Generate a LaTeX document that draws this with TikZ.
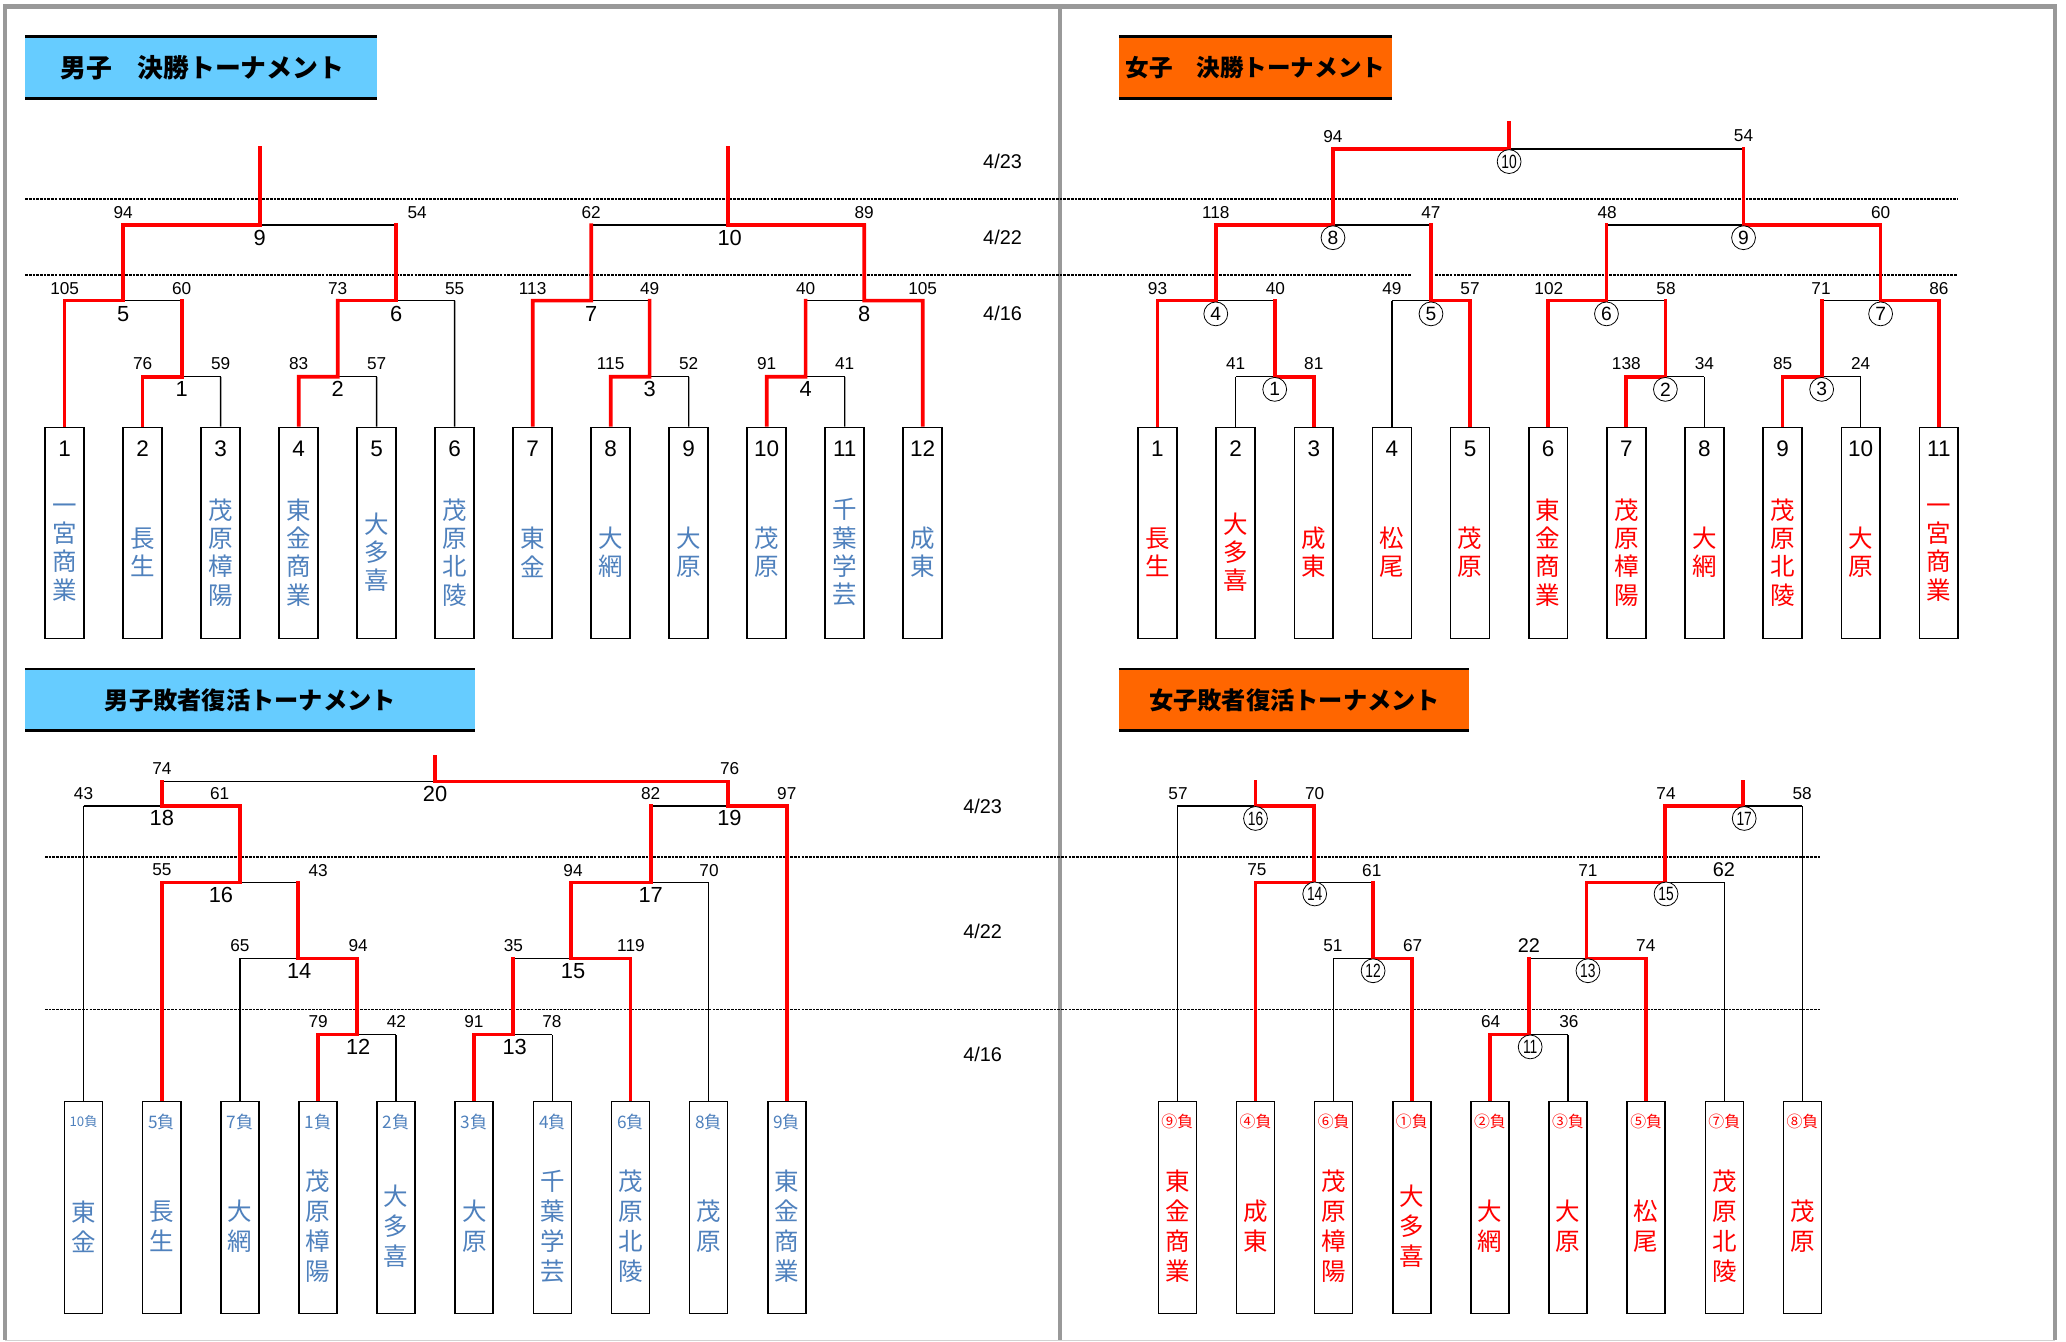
\documentclass[tikz,border=0pt]{standalone}
\usepackage{fontspec}
\setmainfont{Liberation Sans}
\newfontfamily\jp{Noto Sans CJK JP}
\newfontfamily\narrowf[FakeStretch=0.72]{Liberation Sans}
\definecolor{tblue}{HTML}{4F81BD}
\definecolor{lblue}{HTML}{66CCFF}
\definecolor{orng}{HTML}{FF6600}
\definecolor{framec}{HTML}{999999}
\definecolor{rr}{HTML}{FF0000}
\tikzset{
 bk/.style={line width=1pt, black},
 rd/.style={line width=2.8pt, rr, line join=miter, line cap=rect},
 rdb/.style={rd, shorten <=1.4pt},
 tbox/.style={draw, fill=white, line width=1.2pt, minimum width=29.3pt, minimum height=159.5pt, inner sep=0pt},
 rbox/.style={draw, fill=white, line width=1.2pt, minimum width=28.7pt, minimum height=160pt, inner sep=0pt},
 bnum/.style={font=\fontsize{17}{17}\selectfont, inner sep=0pt},
 score/.style={font=\fontsize{13}{13}\selectfont, inner sep=0pt},
 bigscore/.style={font=\fontsize{15}{15}\selectfont, inner sep=0pt},
 mlab/.style={font=\fontsize{16.5}{16.5}\selectfont, inner sep=0pt},
 clab/.style={draw, circle, line width=0.6pt, minimum size=18pt, inner sep=0pt, font=\fontsize{14.5}{14.5}\selectfont, fill=white},
 tname/.style={font=\fontsize{18.5}{21.4}\selectfont\jp, align=center, inner sep=0pt},
 rname/.style={font=\fontsize{18.5}{22.6}\selectfont\jp, align=center, inner sep=0pt},
 rlab/.style={font=\fontsize{13}{13}\selectfont\jp, inner sep=0pt},
 dline/.style={line width=1.2pt, dash pattern=on 2pt off 0.8pt},
 datel/.style={font=\fontsize{15}{15}\selectfont, inner sep=0pt},
 ttl/.style={font=\jp\bfseries, inner sep=0pt},
}
\newcommand\bmatch[6]{%
  \coordinate (#1L) at (#2,#5);
  \coordinate (#1M) at (#3,#5);
  \coordinate (#1R) at (#4,#5);
  \coordinate (#1T) at (#3,#6);
  \draw[bk] (#1L) -- (#1R);}
\newcommand\scr[6]{\node[score] (#1a) at (#2,#4) {#5}; \node[score] (#1b) at (#3,#4) {#6};}
\begin{document}
\begin{tikzpicture}[x=1pt,y=-1pt]
\useasboundingbox (0,0) rectangle (1560,1013.2);
% frame
\draw[framec, line width=3.6pt] (4,4.9) -- (1551.7,4.9);
\draw[framec, line width=3.2pt] (4,3.1) -- (4,1012);
\draw[framec, line width=3.6pt] (1551.7,3.1) -- (1551.7,1012);
\draw[framec, line width=3.4pt] (800.5,4.9) -- (800.5,1012);
\draw[gray!35, line width=1.2pt] (4,1012.2) -- (1551.7,1012.2);
% dashed day lines
\draw[dline] (19,150.4) -- (1478,150.4);
\draw[dline] (19,207.8) -- (1065.6,207.8) (1083.5,207.8) -- (1478,207.8);
\draw[dline] (34,647.2) -- (1375,647.2);
\draw[dline] (34,762.3) -- (1375,762.3);
% titles
\fill[lblue] (19,27.7) rectangle (285,74.3);
\draw[line width=1.8pt] (19,27.7) -- (285,27.7) (19,74.3) -- (285,74.3);
\node[ttl, font=\fontsize{19.5}{19.5}\selectfont\jp\bfseries] (title1) at (152.7,51) {男子　決勝トーナメント};
\fill[orng] (844.8,27.7) rectangle (1051,74.3);
\draw[line width=1.8pt] (844.8,27.7) -- (1051,27.7) (844.8,74.3) -- (1051,74.3);
\node[ttl, font=\fontsize{17.8}{17.8}\selectfont\jp\bfseries] (title2) at (948,51) {女子　決勝トーナメント};
\fill[lblue] (19,505.1) rectangle (358.3,551.7);
\draw[line width=1.8pt] (19,505.1) -- (358.3,505.1) (19,551.7) -- (358.3,551.7);
\node[ttl, font=\fontsize{18.3}{18.3}\selectfont\jp\bfseries] (title3) at (189,528.5) {男子敗者復活トーナメント};
\fill[orng] (844.8,505.1) rectangle (1109.2,551.7);
\draw[line width=1.8pt] (844.8,505.1) -- (1109.2,505.1) (844.8,551.7) -- (1109.2,551.7);
\node[ttl, font=\fontsize{18.3}{18.3}\selectfont\jp\bfseries] (title4) at (977.5,528.5) {女子敗者復活トーナメント};
% dates
\node[datel] (dt1) at (757,122) {4/23};
\node[datel] (dt2) at (757,179) {4/22};
\node[datel] (dt3) at (757,237) {4/16};
\node[datel] (dt4) at (742,609) {4/23};
\node[datel] (dt5) at (742,703.5) {4/22};
\node[datel] (dt6) at (742,796) {4/16};
% ===== team boxes =====
\foreach \i/\n in {1/一\\宮\\商\\業,2/長\\生,3/茂\\原\\樟\\陽,4/東\\金\\商\\業,5/大\\多\\喜,6/茂\\原\\北\\陵,7/東\\金,8/大\\網,9/大\\原,10/茂\\原,11/千\\葉\\学\\芸,12/成\\東}{
  \pgfmathsetmacro\xx{48.8+58.9*(\i-1)}
  \node[tbox] (mf\i) at (\xx,402.45) {};
  \node[bnum] (mfn\i) at (\xx,338.6) {\i};
  \node[tname,text=tblue] (mfs\i) at (\xx,417) {\n};
}
\foreach \i/\n in {1/長\\生,2/大\\多\\喜,3/成\\東,4/松\\尾,5/茂\\原,6/東\\金\\商\\業,7/茂\\原\\樟\\陽,8/大\\網,9/茂\\原\\北\\陵,10/大\\原,11/一\\宮\\商\\業}{
  \pgfmathsetmacro\xx{874+59*(\i-1)}
  \node[tbox] (wf\i) at (\xx,402.45) {};
  \node[bnum] (wfn\i) at (\xx,338.6) {\i};
  \node[tname,text=rr] (wfs\i) at (\xx,417) {\n};
}
\foreach \i/\l/\n in {1/{\fontsize{10}{10}\selectfont 10負}/東\\金,2/5負/長\\生,3/7負/大\\網,4/1負/茂\\原\\樟\\陽,5/2負/大\\多\\喜,6/3負/大\\原,7/4負/千\\葉\\学\\芸,8/6負/茂\\原\\北\\陵,9/8負/茂\\原,10/9負/東\\金\\商\\業}{
  \pgfmathsetmacro\xx{63.1+59*(\i-1)}
  \node[rbox] (mr\i) at (\xx,911.8) {};
  \node[rlab,text=tblue] (mrn\i) at (\xx,847) {\l};
  \node[rname,text=tblue] (mrs\i) at (\xx,926) {\n};
}
\foreach \i/\l/\n in {1/⑨負/東\\金\\商\\業,2/④負/成\\東,3/⑥負/茂\\原\\樟\\陽,4/①負/大\\多\\喜,5/②負/大\\網,6/③負/大\\原,7/⑤負/松\\尾,8/⑦負/茂\\原\\北\\陵,9/⑧負/茂\\原}{
  \pgfmathsetmacro\xx{889+59*(\i-1)}
  \node[rbox] (wr\i) at (\xx,911.8) {};
  \node[rlab,text=rr,font=\fontsize{12}{12}\selectfont\jp] (wrn\i) at (\xx,847) {\l};
  \node[rname,text=rr] (wrs\i) at (\xx,926) {\n};
}
% ===== men's final =====
\bmatch{a1}{107.7}{137.2}{166.6}{284.5}{227}
\bmatch{a2}{225.5}{255}{284.4}{284.5}{227}
\bmatch{a3}{461.1}{490.5}{520}{284.5}{227}
\bmatch{a4}{578.9}{608.3}{637.8}{284.5}{227}
\bmatch{a5}{48.8}{93}{137.2}{227}{170}
\bmatch{a6}{255}{299.2}{343.3}{227}{170}
\bmatch{a7}{402.2}{446.4}{490.5}{227}{170}
\bmatch{a8}{608.3}{652.5}{696.7}{227}{170}
\bmatch{a9}{93}{196.1}{299.2}{170}{112}
\bmatch{a10}{446.4}{549.5}{652.5}{170}{112}
\draw[bk] (mf3.north) -- (a1R);
\draw[bk] (mf5.north) -- (a2R);
\draw[bk] (mf6.north) -- (a6R);
\draw[bk] (mf9.north) -- (a3R);
\draw[bk] (mf11.north) -- (a4R);
\draw[rdb] (mf2.north) -- (a1L) -- (a1M) -- (a1T);
\draw[rdb] (mf4.north) -- (a2L) -- (a2M) -- (a2T);
\draw[rdb] (mf8.north) -- (a3L) -- (a3M) -- (a3T);
\draw[rdb] (mf10.north) -- (a4L) -- (a4M) -- (a4T);
\draw[rdb] (mf1.north) -- (a5L) -- (a5M) -- (a5T);
\draw[rd] (a6L) -- (a6M) -- (a6T);
\draw[rdb] (mf7.north) -- (a7L) -- (a7M) -- (a7T);
\draw[rdb] (mf12.north) -- (a8R) -- (a8M) -- (a8T);
\draw[rd] (a9L) -- (a9M) -- (a9T);
\draw[rd] (a10R) -- (a10M) -- (a10T);
\scr{sa1}{107.7}{166.6}{274.4}{76}{59}
\scr{sa2}{225.5}{284.4}{274.4}{83}{57}
\scr{sa3}{461.1}{520}{274.4}{115}{52}
\scr{sa4}{578.9}{637.8}{274.4}{91}{41}
\scr{sa5}{48.8}{137.2}{218}{105}{60}
\scr{sa6}{255}{343.3}{218}{73}{55}
\scr{sa7}{402.2}{490.5}{218}{113}{49}
\scr{sa8}{608.3}{696.7}{218}{40}{105}
\scr{sa9}{93}{315}{160.5}{94}{54}
\scr{sa10}{446.4}{652.5}{160.5}{62}{89}
\node[mlab] (la1) at (137.2,294) {1};
\node[mlab] (la2) at (255,294) {2};
\node[mlab] (la3) at (490.5,294) {3};
\node[mlab] (la4) at (608.3,294) {4};
\node[mlab] (la5) at (93,237) {5};
\node[mlab] (la6) at (299.2,237) {6};
\node[mlab] (la7) at (446.4,237) {7};
\node[mlab] (la8) at (652.5,237) {8};
\node[mlab] (la9) at (196.1,179.5) {9};
\node[mlab] (la10) at (551,179.5) {10};
% ===== women's final =====
\bmatch{b1}{933}{962.5}{992}{284.5}{227}
\bmatch{b2}{1228}{1257.5}{1287}{284.5}{227}
\bmatch{b3}{1346}{1375.5}{1405}{284.5}{227}
\bmatch{b4}{874}{918}{962.5}{227}{170}
\bmatch{b5}{1051}{1080.5}{1110}{227}{170}
\bmatch{b6}{1169}{1213}{1257.5}{227}{170}
\bmatch{b7}{1375.5}{1420}{1464}{227}{170}
\bmatch{b8}{918}{1006.5}{1080.5}{170}{112.6}
\bmatch{b9}{1213}{1316.5}{1420}{170}{112.6}
\bmatch{b10}{1006.5}{1139.5}{1316.5}{112.6}{93}
\draw[bk] (wf2.north) -- (b1L);
\draw[bk] (wf4.north) -- (b5L);
\draw[bk] (wf8.north) -- (b2R);
\draw[bk] (wf10.north) -- (b3R);
\draw[rdb] (wf3.north) -- (b1R) -- (b1M) -- (b1T);
\draw[rdb] (wf7.north) -- (b2L) -- (b2M) -- (b2T);
\draw[rdb] (wf9.north) -- (b3L) -- (b3M) -- (b3T);
\draw[rdb] (wf1.north) -- (b4L) -- (b4M) -- (b4T);
\draw[rdb] (wf5.north) -- (b5R) -- (b5M) -- (b5T);
\draw[rdb] (wf6.north) -- (b6L) -- (b6M) -- (b6T);
\draw[rdb] (wf11.north) -- (b7R) -- (b7M) -- (b7T);
\draw[rd] (b8L) -- (b8M) -- (b8T);
\draw[rd] (b9R) -- (b9M) -- (b9T);
\draw[rd] (b10L) -- (b10M) -- (b10T);
\scr{sb1}{933}{992}{274.4}{41}{81}
\scr{sb2}{1228}{1287}{274.4}{138}{34}
\scr{sb3}{1346}{1405}{274.4}{85}{24}
\scr{sb4}{874}{963}{218}{93}{40}
\scr{sb5}{1051}{1110}{218}{49}{57}
\scr{sb6}{1169.5}{1258}{218}{102}{58}
\scr{sb7}{1375}{1464}{218}{71}{86}
\scr{sb8}{918}{1080.5}{160.5}{118}{47}
\scr{sb9}{1213.5}{1420}{160.5}{48}{60}
\scr{sb10}{1006.5}{1316.5}{102.8}{94}{54}
\node[clab] (lb1) at (962.5,294) {1};
\node[clab] (lb2) at (1257.5,294) {2};
\node[clab] (lb3) at (1375.5,294) {3};
\node[clab] (lb4) at (918,237) {4};
\node[clab] (lb5) at (1080.5,237) {5};
\node[clab] (lb6) at (1213,237) {6};
\node[clab] (lb7) at (1420,237) {7};
\node[clab] (lb8) at (1006.5,179.5) {8};
\node[clab] (lb9) at (1316.5,179.5) {9};
\node[clab] (lb10) at (1139.5,122) {\narrowf 10};
% ===== men's repechage =====
\bmatch{c12}{240.1}{269.6}{299.1}{781.2}{723.7}
\bmatch{c13}{358.1}{387.6}{417.1}{781.2}{723.7}
\bmatch{c14}{181.1}{224.8}{269.6}{723.7}{666.3}
\bmatch{c15}{387.6}{431.2}{476.1}{723.7}{666.3}
\bmatch{c16}{122.1}{181.1}{224.8}{666.3}{608.6}
\bmatch{c17}{431.2}{491.3}{535.1}{666.3}{608.6}
\bmatch{c18}{63.1}{122.1}{181.1}{608.6}{590.2}
\bmatch{c19}{491.3}{549.8}{594.1}{608.6}{590.2}
\bmatch{c20}{122.1}{328.5}{549.8}{590.2}{571.4}
\draw[bk] (mr1.north) -- (c18L);
\draw[bk] (mr3.north) -- (c14L);
\draw[bk] (mr5.north) -- (c12R);
\draw[bk] (mr7.north) -- (c13R);
\draw[bk] (mr9.north) -- (c17R);
\draw[rdb] (mr4.north) -- (c12L) -- (c12M) -- (c12T);
\draw[rdb] (mr6.north) -- (c13L) -- (c13M) -- (c13T);
\draw[rd] (c14R) -- (c14M) -- (c14T);
\draw[rdb] (mr8.north) -- (c15R) -- (c15M) -- (c15T);
\draw[rdb] (mr2.north) -- (c16L) -- (c16M) -- (c16T);
\draw[rd] (c17L) -- (c17M) -- (c17T);
\draw[rd] (c18R) -- (c18M) -- (c18T);
\draw[rdb] (mr10.north) -- (c19R) -- (c19M) -- (c19T);
\draw[rd] (c20R) -- (c20M) -- (c20T);
\scr{sc20}{122.2}{551}{580}{74}{76}
\scr{sc18}{63.1}{165.8}{599}{43}{61}
\scr{sc19}{491.3}{594.1}{599}{82}{97}
\scr{sc16}{122.2}{240.2}{657}{55}{43}
\scr{sc17}{432.7}{535.4}{657}{94}{70}
\scr{sc14}{181.2}{270.5}{714}{65}{94}
\scr{sc15}{387.6}{476.4}{714}{35}{119}
\scr{sc12}{240.2}{299.3}{771.6}{79}{42}
\scr{sc13}{357.8}{416.8}{771.6}{91}{78}
\node[mlab] (lc20) at (328.5,599.5) {20};
\node[mlab] (lc18) at (122.2,618) {18};
\node[mlab] (lc19) at (550.8,618) {19};
\node[mlab] (lc16) at (166.8,676) {16};
\node[mlab] (lc17) at (491.3,676) {17};
\node[mlab] (lc14) at (225.9,733) {14};
\node[mlab] (lc15) at (432.7,733) {15};
\node[mlab] (lc12) at (270.5,790.5) {12};
\node[mlab] (lc13) at (388.6,790.5) {13};
% ===== women's repechage =====
\bmatch{d11}{1125}{1154.5}{1184}{781.2}{723.7}
\bmatch{d12}{1007}{1036.5}{1066}{723.7}{666.3}
\bmatch{d13}{1154.5}{1198}{1243}{723.7}{666.3}
\bmatch{d14}{948}{992}{1036.5}{666.3}{608.6}
\bmatch{d15}{1198}{1257}{1302}{666.3}{608.6}
\bmatch{d16}{889}{948}{992}{608.6}{590}
\bmatch{d17}{1257}{1316}{1361}{608.6}{590}
\draw[bk] (wr1.north) -- (d16L);
\draw[bk] (wr3.north) -- (d12L);
\draw[bk] (wr6.north) -- (d11R);
\draw[bk] (wr8.north) -- (d15R);
\draw[bk] (wr9.north) -- (d17R);
\draw[rdb] (wr5.north) -- (d11L) -- (d11M) -- (d11T);
\draw[rdb] (wr4.north) -- (d12R) -- (d12M) -- (d12T);
\draw[rdb] (wr7.north) -- (d13R) -- (d13M) -- (d13T);
\draw[rdb] (wr2.north) -- (d14L) -- (d14M) -- (d14T);
\draw[rd] (d15L) -- (d15M) -- (d15T);
\draw[rd] (d16R) -- (d16M) -- (d16T);
\draw[rd] (d17L) -- (d17M) -- (d17T);
\scr{sd16}{889.5}{992.7}{599}{57}{70}
\scr{sd17}{1258}{1360.8}{599}{74}{58}
\node[score] (sd14a) at (949,657) {75};
\node[score] (sd14b) at (1035.8,657) {61};
\node[score] (sd15a) at (1199,657) {71};
\node[bigscore] (sd15b) at (1301.7,657) {62};
\scr{sd12}{1006.5}{1066.6}{714}{51}{67}
\node[bigscore] (sd13a) at (1154.4,714) {22};
\node[score] (sd13b) at (1242.7,714) {74};
\scr{sd11}{1125.6}{1184.7}{771.6}{64}{36}
\node[clab] (ld16) at (948,618) {\narrowf 16};
\node[clab] (ld17) at (1317,618) {\narrowf 17};
\node[clab] (ld14) at (992.7,675) {\narrowf 14};
\node[clab] (ld15) at (1258,675) {\narrowf 15};
\node[clab] (ld12) at (1036.8,733) {\narrowf 12};
\node[clab] (ld13) at (1199,733) {\narrowf 13};
\node[clab] (ld11) at (1155.4,790.5) {\narrowf 11};
\end{tikzpicture}
\end{document}
